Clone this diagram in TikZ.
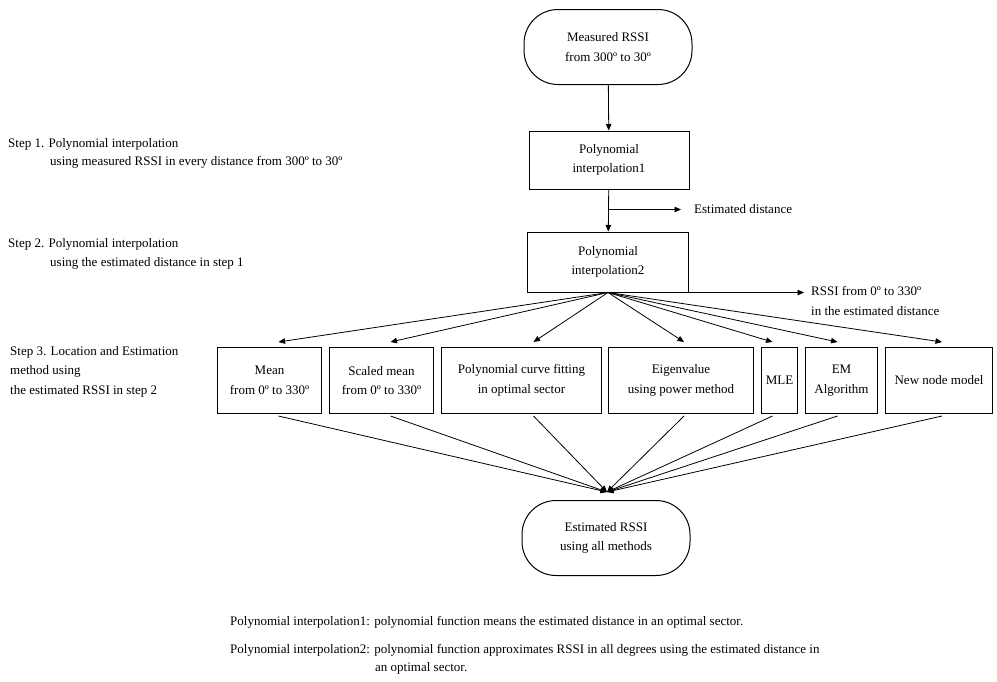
\documentclass[tikz,border=0pt]{standalone}
\usepackage{fontspec}
\setmainfont{Liberation Serif}
\usetikzlibrary{arrows.meta, calc, positioning}

\newcommand{\diagfont}{\fontsize{13}{19.5}\selectfont}

\begin{document}
\begin{tikzpicture}[>={Triangle[length=6.5pt,width=5.5pt]}, x=1pt, y=-1pt,
  box/.style={draw, line width=1pt, align=center, inner sep=2pt, font=\diagfont},
  terminal/.style={box, rounded corners=34pt, minimum width=168pt, minimum height=75pt},
  method/.style={box, minimum height=66pt, anchor=north west},
  note/.style={font=\diagfont, inner sep=0pt, align=left},
  link/.style={line width=0.8pt}]

\useasboundingbox (0,0) rectangle (997,681);

% Main chain
\node[terminal] (meas) at (608,47) {Measured RSSI\\from 300º to 30º};
\node[box, minimum width=160pt, minimum height=58pt] (pi1) at (609,160) {Polynomial\\interpolation1};
\node[box, minimum width=161pt, minimum height=60pt] (pi2) at (608,262) {Polynomial\\interpolation2};
\node[terminal] (final) at (606,538) {Estimated RSSI\\using all methods};

\draw[link, ->] (meas) -- (pi1);
\draw[link, ->] (pi1) -- (pi2);

% Side outputs
\coordinate (split) at ($(pi1.south)+(0,20)$);
\coordinate (estd) at ($(split)+(72,0)$);
\draw[link, ->] (split) -- (estd);
\node[note, anchor=west, right=13pt of estd] (estdtext) {Estimated distance};

\coordinate (rssi) at ($(pi2.south)+(196,0)$);
\draw[link, ->] (pi2.south) -- (rssi);
\node[note, anchor=south west] (rssitext) at ($(rssi)+(7,23)$) {RSSI from 0º to 330º\\in the estimated distance};

% Method boxes
\node[method, minimum width=104pt] (mean) at (217,347) {Mean\\from 0º to 330º};
\node[method, minimum width=104pt] (scaled) at (329,347) {Scaled mean\\from 0º to 330º};
\node[method, minimum width=160pt] (curve) at (441,347) {Polynomial curve fitting\\in optimal sector};
\node[method, minimum width=145pt] (eigen) at (608,347) {Eigenvalue\\using power method};
\node[method, minimum width=36pt] (mle) at (761,347) {MLE};
\node[method, minimum width=72pt] (em) at (805,347) {EM\\Algorithm};
\node[method, minimum width=107pt] (newnode) at (885,347) {New node model};

\coordinate (conv) at ($(final.north)+(1,-8)$);

% Fan out and back in
\foreach \b/\dx in {mean/9, scaled/9, curve/12, eigen/3, mle/-7, em/-4, newnode/3} {
  \draw[link, ->] (pi2.south) -- ([xshift=\dx pt, yshift=5pt]\b.north);
  \draw[link, ->] ([xshift=\dx pt, yshift=-2pt]\b.south) -- (conv);
}

% Step descriptions
\node[note, anchor=base west] (step1) at (8,147) {Step 1. Polynomial interpolation};
\node[note, anchor=base west] (step1b) at (50,165) {using measured RSSI in every distance from 300º to 30º};
\node[note, anchor=base west] (step2) at (8,247) {Step 2. Polynomial interpolation};
\node[note, anchor=base west] (step2b) at (50,266) {using the estimated distance in step 1};
\node[note, anchor=north west] (step3) at (10,346) {Step 3. Location and Estimation\\method using\\the estimated RSSI in step 2};

% Notes
\node[note, anchor=base west] (note1) at (230,625) {Polynomial interpolation1: polynomial function means the estimated distance in an optimal sector.};
\node[note, anchor=base west] (note2) at (230,653) {Polynomial interpolation2: polynomial function approximates RSSI in all degrees using the estimated distance in};
\node[note, anchor=base west] (note2b) at (375,671) {an optimal sector.};

\end{tikzpicture}
\end{document}
